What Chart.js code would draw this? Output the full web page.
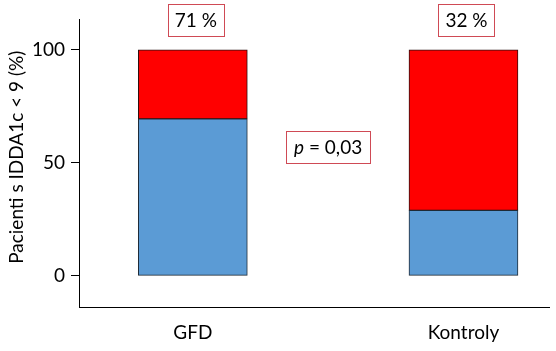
<!DOCTYPE html>
<html>
<head>
<meta charset="utf-8">
<script src="https://cdn.jsdelivr.net/npm/chart.js@4/dist/chart.umd.min.js"></script>
<style>
html,body{margin:0;padding:0;background:#fff;}
#wrap{width:556px;height:351px;position:relative;}
</style>
</head>
<body>
<div id="wrap"><canvas id="c"></canvas></div>
<script>
const categories = ['GFD', 'Kontroly'];
const blueValues = [69.5, 29];
const redValues = [30.5, 71];
const percentLabels = ['71 %', '32 %'];
const pLabelItalic = 'p';
const pLabelRest = ' = 0,03';
const pLabelValue = 57;
const yTicks = [0, 50, 100];
const yTitle = 'Pacienti s IDDA1c < 9 (%)';

const FONT = 'Lato';
const FS = 19;
const boxColor = '#cf4a55';

const annot = {
  id: 'annot',
  afterDraw(chart) {
    const ctx = chart.ctx;
    const xs = chart.scales.x, ys = chart.scales.y;
    const ca = chart.chartArea;
    ctx.save();
    ctx.font = FS + 'px ' + FONT;
    ctx.textBaseline = 'middle';
    ctx.textAlign = 'center';
    function box(cx, cy, w, h) {
      ctx.fillStyle = '#fff';
      ctx.fillRect(cx - w / 2, cy - h / 2, w, h);
      ctx.strokeStyle = boxColor;
      ctx.lineWidth = 1;
      ctx.strokeRect(Math.round(cx - w / 2) + 0.5, Math.round(cy - h / 2) + 0.5, Math.round(w), Math.round(h));
    }
    percentLabels.forEach((t, i) => {
      const cx = xs.getPixelForValue(i) + 3;
      const cy = ca.top + 1;
      const w = ctx.measureText(t).width + 14;
      box(cx, cy, w, 32);
      ctx.fillStyle = '#000';
      ctx.fillText(t, cx, cy + 1);
    });
    // p-value box
    const pcx = (xs.getPixelForValue(0) + xs.getPixelForValue(1)) / 2;
    const pcy = ys.getPixelForValue(pLabelValue);
    ctx.font = 'italic ' + FS + 'px ' + FONT;
    const w1 = ctx.measureText(pLabelItalic).width;
    ctx.font = FS + 'px ' + FONT;
    const w2 = ctx.measureText(pLabelRest).width;
    const tw = w1 + w2;
    box(pcx, pcy, tw + 16, 32);
    ctx.textAlign = 'left';
    ctx.fillStyle = '#000';
    ctx.font = 'italic ' + FS + 'px ' + FONT;
    ctx.fillText(pLabelItalic, pcx - tw / 2, pcy + 1);
    ctx.font = FS + 'px ' + FONT;
    ctx.fillText(pLabelRest, pcx - tw / 2 + w1, pcy + 1);
    // y title
    ctx.save();
    ctx.translate(17, ys.getPixelForValue(52.5));
    ctx.rotate(-Math.PI / 2);
    ctx.textAlign = 'center';
    ctx.fillText(yTitle, 0, 0);
    ctx.restore();
    ctx.restore();
  }
};

new Chart(document.getElementById('c'), {
  type: 'bar',
  data: {
    datasets: [
      {
        data: blueValues.map((v, i) => ({ x: i, y: v })),
        backgroundColor: '#5b9bd5',
        borderColor: '#1e2a36',
        borderWidth: 1,
        borderSkipped: false,
        barThickness: 109
      },
      {
        data: redValues.map((v, i) => ({ x: i, y: v })),
        backgroundColor: '#ff0000',
        borderColor: '#2a1010',
        borderWidth: 1,
        borderSkipped: false,
        barThickness: 109
      }
    ]
  },
  options: {
    responsive: true,
    maintainAspectRatio: false,
    animation: false,
    layout: { padding: { top: 19, right: 7, bottom: 0, left: 0 } },
    plugins: { legend: { display: false }, tooltip: { enabled: false } },
    scales: {
      x: {
        type: 'linear',
        stacked: true,
        offset: false,
        min: -0.4205,
        max: 1.316,
        afterBuildTicks: (s) => { s.ticks = categories.map((c, i) => ({ value: i })); },
        afterFit: (s) => { s.height = 44; },
        grid: { display: false, offset: false },
        border: { display: true, color: '#000', width: 1 },
        ticks: {
          autoSkip: false,
          maxRotation: 0,
          padding: 6,
          color: '#000',
          font: { family: FONT, size: FS },
          callback: (v) => categories[v]
        }
      },
      y: {
        stacked: true,
        min: -13.8,
        max: 113.7,
        afterBuildTicks: (s) => { s.ticks = yTicks.map(v => ({ value: v })); },
        afterFit: (s) => { s.width = 79; },
        grid: { display: true, drawOnChartArea: false, drawTicks: true, tickLength: 8, color: '#000' },
        border: { display: true, color: '#000', width: 1 },
        ticks: {
          padding: 6,
          color: '#000',
          font: { family: FONT, size: FS }
        }
      }
    }
  },
  plugins: [annot]
});
</script>
</body>
</html>
